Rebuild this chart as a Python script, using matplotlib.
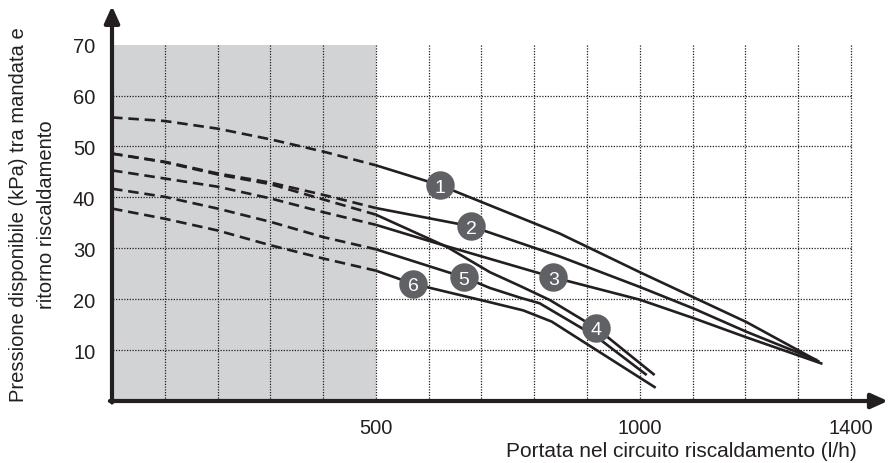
import matplotlib
matplotlib.use("Agg")
import matplotlib.pyplot as plt
import numpy as np

plt.rcParams['font.family'] = ['Liberation Sans', 'DejaVu Sans']

# dashed part (outside working range), flow l/h and pressure kPa
dash_x = [0, 100, 200, 300, 400, 500]
dash_1 = [55.7, 55.0, 53.5, 51.4, 49.0, 46.3]
dash_2 = [48.6, 47.0, 44.7, 42.9, 40.5, 37.9]
dash_3 = [45.3, 43.7, 42.1, 39.8, 37.1, 34.6]
dash_4 = [48.6, 46.9, 44.5, 42.6, 39.6, 36.6]
dash_5 = [41.7, 40.1, 37.8, 35.2, 32.2, 29.8]
dash_6 = [37.8, 35.8, 33.5, 30.6, 28.0, 25.6]

# solid part
sol_x1 = [500, 621, 848, 1000, 1101, 1202, 1340]
sol_1 = [46.3, 42.4, 32.9, 25.3, 20.4, 15.5, 7.7]
sol_x2 = [500, 681, 848, 1000, 1101, 1202, 1336]
sol_2 = [37.9, 34.3, 28.4, 22.4, 18.2, 13.6, 8.0]
sol_x3 = [500, 634, 836, 1000, 1101, 1202, 1346]
sol_3 = [34.6, 30.4, 24.3, 19.9, 16.3, 12.5, 7.3]
sol_x4 = [500, 634, 716, 773, 830, 918, 1028]
sol_4 = [36.6, 30.3, 25.3, 22.6, 19.8, 14.3, 5.1]
sol_x5 = [500, 667, 716, 773, 810, 918, 1013]
sol_5 = [29.8, 24.3, 22.2, 20.3, 19.2, 12.6, 5.1]
sol_x6 = [500, 571, 716, 779, 833, 1030]
sol_6 = [25.6, 23.0, 19.4, 17.8, 15.6, 2.6]

# numbered badges
badge_n = ["1", "2", "3", "4", "5", "6"]
badge_x = [621, 681, 836, 917, 667, 571]
badge_y = [42.4, 34.3, 24.3, 14.4, 24.3, 23.0]

xticks = [500, 1000, 1400]
yticks = [10, 20, 30, 40, 50, 60, 70]

fig = plt.figure(figsize=(8.89, 4.64), dpi=100)
ax = fig.add_axes([112/889, 62/464, 768/889, 392/464])
ax.set_xlim(0, 1455)
ax.set_ylim(0, 77)
for s in ax.spines.values():
    s.set_visible(False)

ink = '#231f20'

# shaded area and grid
ax.fill_between([0, 500], 0, 70, color='#d1d3d4', lw=0, zorder=0)
ax.vlines(np.arange(100, 1401, 100), 0, 70, colors=ink, linestyles=(0, (1, 1.2)), lw=0.9, zorder=1)
ax.hlines(np.arange(10, 61, 10), -3, 1400, colors=ink, linestyles=(0, (1, 1.2)), lw=0.9, zorder=1)

dashes = [dash_1, dash_2, dash_3, dash_4, dash_5, dash_6]
sols = [(sol_x1, sol_1), (sol_x2, sol_2), (sol_x3, sol_3),
        (sol_x4, sol_4), (sol_x5, sol_5), (sol_x6, sol_6)]
for d, (sx, sy) in zip(dashes, sols):
    ax.plot(dash_x, d, color=ink, lw=1.9, ls=(0, (4, 2.2)), zorder=3)
    ax.plot(sx, sy, color=ink, lw=1.9, zorder=3, solid_capstyle='butt')

for n, bx, by in zip(badge_n, badge_x, badge_y):
    ax.plot(bx, by, 'o', ms=20.5, color='#606164', mec='none', zorder=4)
    ax.text(bx, by, n, color='white', fontsize=14, ha='center', va='center_baseline', zorder=5)

# axes with arrows
ax.annotate('', xy=(1470, 0), xytext=(-4, 0), xycoords='data',
            arrowprops=dict(arrowstyle='-|>,head_length=1.0,head_width=0.45', lw=3,
                            color=ink, shrinkA=0, shrinkB=0),
            annotation_clip=False, zorder=6)
ax.annotate('', xy=(0, 77.6), xytext=(0, -0.3), xycoords='data',
            arrowprops=dict(arrowstyle='-|>,head_length=1.0,head_width=0.45', lw=3,
                            color=ink, shrinkA=0, shrinkB=0),
            annotation_clip=False, zorder=6)

ax.set_xticks(xticks)
ax.set_yticks(yticks)
ax.tick_params(length=0, labelsize=14.5, colors=ink)
ax.tick_params(axis='x', pad=12)
ax.tick_params(axis='y', pad=12)

fig.text(857/889, 1 - 452/464, "Portata nel circuito riscaldamento (l/h)",
         ha='right', va='center', fontsize=15, color=ink)
fig.text(33/889, 1 - 215/464, "Pressione disponibile (kPa) tra mandata e\nritorno riscaldamento",
         ha='center', va='center', rotation=90, fontsize=14.5, color=ink,
         multialignment='center', linespacing=1.6)

fig.savefig("out.png", dpi=100)
